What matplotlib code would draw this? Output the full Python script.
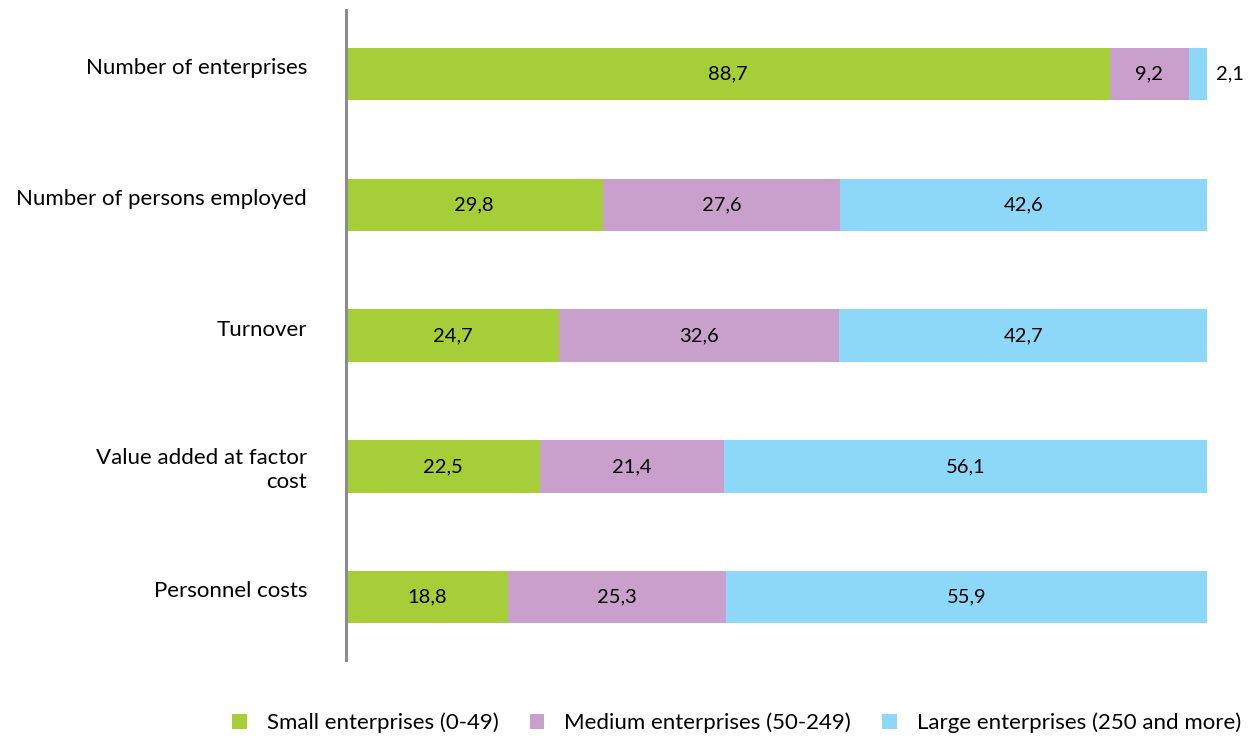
import numpy as np
import matplotlib.pyplot as plt

plt.rcParams['font.family'] = ['Lato', 'DejaVu Sans']

categories = ['Number of enterprises', 'Number of persons employed', 'Turnover',
              'Value added at factor\ncost', 'Personnel costs']
small = [88.7, 29.8, 24.7, 22.5, 18.8]
medium = [9.2, 27.6, 32.6, 21.4, 25.3]
large = [2.1, 42.6, 42.7, 56.1, 55.9]
series_names = ['Small enterprises (0-49)', 'Medium enterprises (50-249)',
                'Large enterprises (250 and more)']
colors = ['#a6ce39', '#c8a0cb', '#8dd8f8']

fig = plt.figure(figsize=(12.57, 7.4), dpi=100)
ax = fig.add_axes([346 / 1257, 1 - 660 / 740, 861 / 1257, 650 / 740])

y = np.arange(len(categories))
left = np.zeros(len(categories))
for vals, name, col in zip([small, medium, large], series_names, colors):
    vals = np.array(vals)
    ax.barh(y, vals, left=left, height=0.4, color=col, label=name)
    for yi, l, v in zip(y, left, vals):
        if v < 5:
            ax.text(l + v + 1.1, yi, f'{v:.1f}'.replace('.', ','), ha='left',
                    va='center', fontsize=14.5)
        else:
            ax.text(l + v / 2, yi, f'{v:.1f}'.replace('.', ','), ha='center',
                    va='center', fontsize=14.5)
    left += vals

ax.set_xlim(0, 100)
ax.set_ylim(4.48, -0.49)
ax.set_yticks(y)
ax.set_yticklabels(categories, fontsize=16, ha='right')
for lab in ax.get_yticklabels():
    if '\n' not in lab.get_text():
        lab.set_va('baseline')
ax.tick_params(axis='y', length=0, pad=28)
ax.set_xticks([])
for s in ['top', 'right', 'bottom']:
    ax.spines[s].set_visible(False)
ax.spines['left'].set_color('#8c8c8c')
ax.spines['left'].set_linewidth(2.2)

fig.legend(loc='lower center', bbox_to_anchor=(0.586, -0.018), ncol=3, frameon=False,
           fontsize=16, handlelength=0.65, handleheight=0.65, columnspacing=1.4,
           handletextpad=0.9)

fig.savefig('out.png', dpi=100)
